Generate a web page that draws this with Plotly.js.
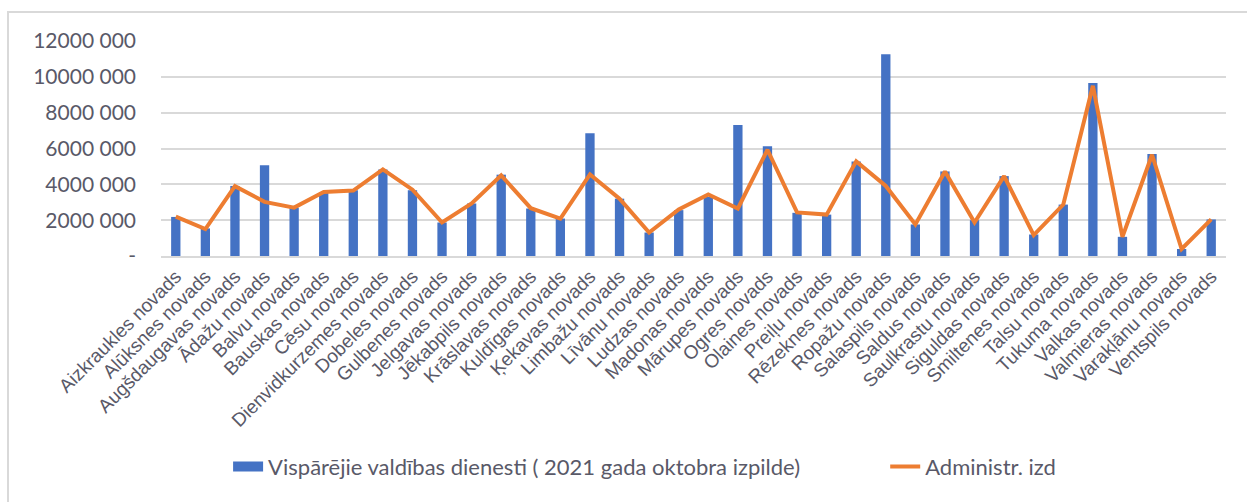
<!DOCTYPE html>
<html>
<head>
<meta charset="utf-8">
<script src="https://cdn.plot.ly/plotly-3.0.1.min.js"></script>
<style>
  html, body { margin: 0; padding: 0; background: #ffffff; }
  #frame { position: absolute; left: 7px; top: 11px; width: 1260px; height: 520px;
           border-top: 2px solid #d9d9d9; border-left: 2px solid #d9d9d9; box-sizing: border-box; }
  #chart { position: absolute; left: 0; top: 0; width: 1247px; height: 502px; }
</style>
</head>
<body>
<div id="frame"></div>
<div id="chart"></div>
<script>
const categories = [
  "Aizkraukles novads", "Alūksnes novads", "Augšdaugavas novads", "Ādažu novads",
  "Balvu novads", "Bauskas novads", "Cēsu novads", "Dienvidkurzemes novads",
  "Dobeles novads", "Gulbenes novads", "Jelgavas novads", "Jēkabpils novads",
  "Krāslavas novads", "Kuldīgas novads", "Ķekavas novads", "Limbažu novads",
  "Līvānu novads", "Ludzas novads", "Madonas novads", "Mārupes novads",
  "Ogres novads", "Olaines novads", "Preiļu novads", "Rēzeknes novads",
  "Ropažu novads", "Salaspils novads", "Saldus novads", "Saulkrastu novads",
  "Siguldas novads", "Smiltenes novads", "Talsu novads", "Tukuma novads",
  "Valkas novads", "Valmieras novads", "Varakļānu novads", "Ventspils novads"
];

const generalServices = [
  2180000, 1540000, 3910000, 5060000, 2700000, 3570000, 3670000, 4830000,
  3670000, 1870000, 2930000, 4540000, 2650000, 2090000, 6850000, 3200000,
  1310000, 2560000, 3300000, 7310000, 6130000, 2410000, 2310000, 5280000,
  11260000, 1760000, 4720000, 2000000, 4460000, 1200000, 2870000, 9650000,
  1070000, 5700000, 390000, 2040000
];

const adminExpenses = [
  2200000, 1500000, 3900000, 3020000, 2700000, 3570000, 3650000, 4830000,
  3700000, 1870000, 2930000, 4500000, 2670000, 2090000, 4550000, 3200000,
  1310000, 2600000, 3430000, 2650000, 5930000, 2430000, 2310000, 5280000,
  3910000, 1760000, 4720000, 1870000, 4460000, 1170000, 2870000, 9500000,
  1070000, 5650000, 390000, 2040000
];

const seriesNames = [
  "Vispārējie valdības dienesti ( 2021 gada oktobra izpilde)",
  "Administr. izd"
];

const yTickVals = [0, 2000000, 4000000, 6000000, 8000000, 10000000, 12000000];
const yTickText = ["-", "2000 000", "4000 000", "6000 000", "8000 000", "10000 000", "12000 000"];

const textColor = "#595968";
const blue = "#4472C4";
const orange = "#ED7D31";
const legendFont = { family: "Lato, 'Liberation Sans', sans-serif", size: 22, color: textColor };

const traces = [
  {
    type: "bar",
    name: seriesNames[0],
    x: categories,
    y: generalServices,
    marker: { color: blue },
    showlegend: false,
    legendgroup: "a"
  },
  {
    type: "scatter",
    mode: "lines",
    name: seriesNames[0],
    x: [null],
    y: [null],
    line: { color: blue, width: 14 },
    legendgroup: "a",
    showlegend: true,
    legend: "legend"
  },
  {
    type: "scatter",
    mode: "lines",
    name: seriesNames[1],
    x: categories,
    y: adminExpenses,
    line: { color: orange, width: 4 },
    showlegend: true,
    legend: "legend2"
  }
];

const layout = {
  width: 1247,
  height: 502,
  paper_bgcolor: "rgba(0,0,0,0)",
  plot_bgcolor: "rgba(0,0,0,0)",
  margin: { l: 161, r: 21, t: 41, b: 246, pad: 0 },
  bargap: 0.685,
  showlegend: true,
  legend: {
    orientation: "h",
    x: 0.063,
    xanchor: "left",
    y: -0.98,
    yanchor: "middle",
    font: legendFont,
    itemwidth: 30
  },
  legend2: {
    orientation: "h",
    x: 0.680,
    xanchor: "left",
    y: -0.98,
    yanchor: "middle",
    font: legendFont,
    itemwidth: 30
  },
  xaxis: {
    type: "category",
    tickangle: -45,
    tickfont: { family: "'Liberation Sans', Arial, sans-serif", size: 19, color: textColor },
    showgrid: false,
    showline: true,
    linecolor: "#d9d9d9",
    linewidth: 2,
    ticks: "",
    automargin: false
  },
  yaxis: {
    range: [0, 12000000],
    tickvals: yTickVals,
    ticktext: yTickText,
    tickfont: { family: "Lato, 'Liberation Sans', sans-serif", size: 21, color: textColor },
    showgrid: true,
    gridcolor: "#d9d9d9",
    gridwidth: 2,
    zeroline: false,
    showline: false,
    ticks: "",
    ticklabelstandoff: 24,
    automargin: false
  }
};

Plotly.newPlot("chart", traces, layout, { displayModeBar: false, staticPlot: true });
</script>
</body>
</html>
